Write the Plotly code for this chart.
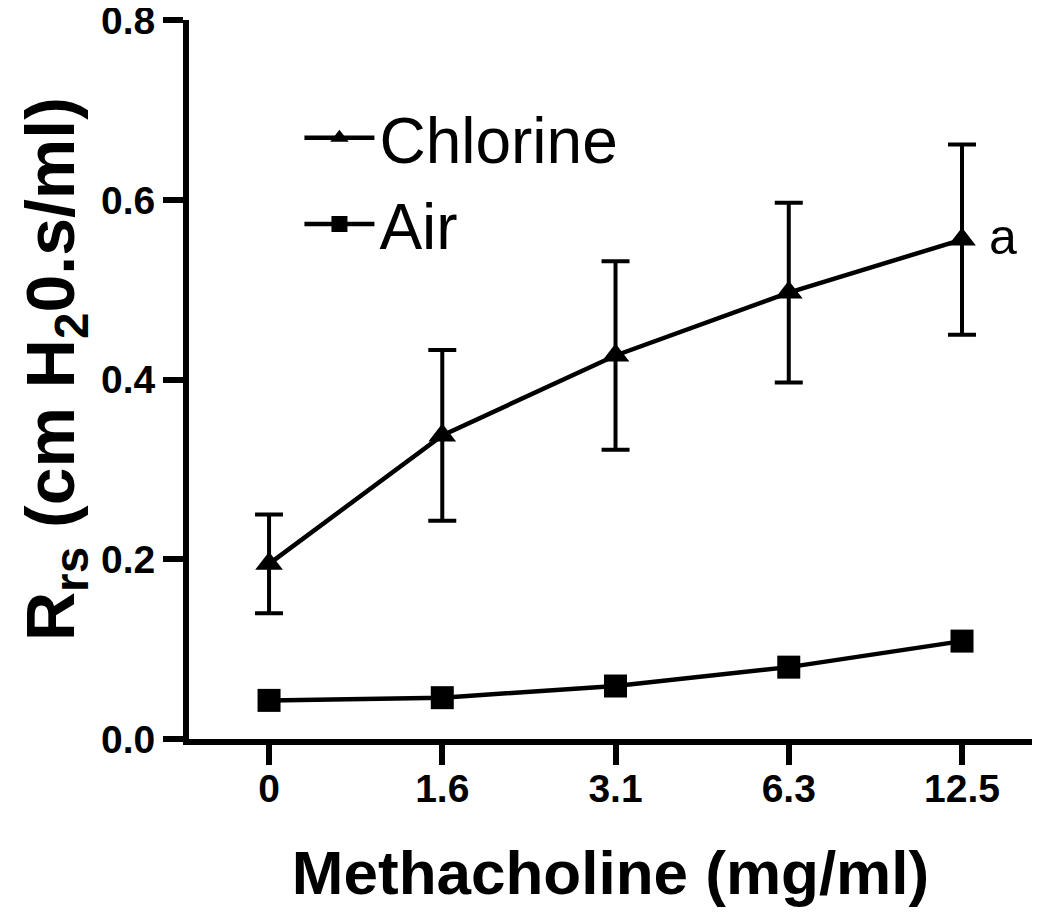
import plotly.graph_objects as go

categories = ["0", "1.6", "3.1", "6.3", "12.5"]
chlorine = [0.195, 0.338, 0.427, 0.497, 0.556]
chlorine_err = [0.055, 0.095, 0.105, 0.100, 0.106]
air = [0.043, 0.046, 0.059, 0.080, 0.109]
y_ticks = [0.0, 0.2, 0.4, 0.6, 0.8]

xpos = list(range(len(categories)))
FONT = "Liberation Sans, Arial, Helvetica, sans-serif"

fig = go.Figure()
fig.add_trace(go.Scatter(
    x=xpos, y=chlorine, name="Chlorine", mode="lines+markers",
    line=dict(color="black", width=4.5),
    marker=dict(symbol="triangle-up", size=24, color="black"),
    error_y=dict(type="data", array=chlorine_err, visible=True,
                 color="black", thickness=4, width=14),
))
fig.add_trace(go.Scatter(
    x=xpos, y=air, name="Air", mode="lines+markers",
    line=dict(color="black", width=4.5),
    marker=dict(symbol="square", size=23, color="black"),
))

fig.add_annotation(x=xpos[-1], y=chlorine[-1], text="a", showarrow=False,
                   xanchor="left", yanchor="middle", xshift=25, yshift=3,
                   font=dict(family=FONT, size=50, color="black"))

# y-axis title as a rotated annotation so it can sit close to the page edge
fig.add_annotation(xref="paper", yref="paper", x=-0.2132, y=0.515,
                   text="R<sub>rs</sub> (cm H<sub>2</sub>0.s/ml)", textangle=-90,
                   showarrow=False, xanchor="left", yanchor="middle",
                   font=dict(family=FONT, size=68, color="black", weight="bold"))

fig.update_layout(
    width=1050, height=917,
    margin=dict(l=181, r=26, t=12, b=186),
    plot_bgcolor="white", paper_bgcolor="white",
    showlegend=True,
    legend=dict(x=0.131, y=0.903, xanchor="left", yanchor="top",
                font=dict(family=FONT, size=64, color="black"),
                itemwidth=70,
                bgcolor="rgba(0,0,0,0)", tracegroupgap=0),
    xaxis=dict(
        range=[-0.462, 4.404], tickmode="array", tickvals=xpos, ticktext=categories,
        automargin=False,
        showgrid=False, zeroline=False, showline=True, linecolor="black", linewidth=6,
        ticks="outside", ticklen=20, tickwidth=6, tickcolor="black",
        ticklabelstandoff=-10,
        tickfont=dict(family=FONT, size=39, color="black", weight="bold"),
        title=dict(text="Methacholine (mg/ml)", standoff=44,
                   font=dict(family=FONT, size=62, color="black", weight="bold")),
    ),
    yaxis=dict(
        range=[0, 0.8005], tickmode="array", tickvals=y_ticks, tickformat=".1f",
        automargin=False,
        showgrid=False, zeroline=False, showline=True, linecolor="black", linewidth=6,
        ticks="outside", ticklen=20, tickwidth=6, tickcolor="black",
        ticklabeloverflow="allow",
        tickfont=dict(family=FONT, size=39, color="black", weight="bold"),
    ),
)

fig.write_html("out.html")
